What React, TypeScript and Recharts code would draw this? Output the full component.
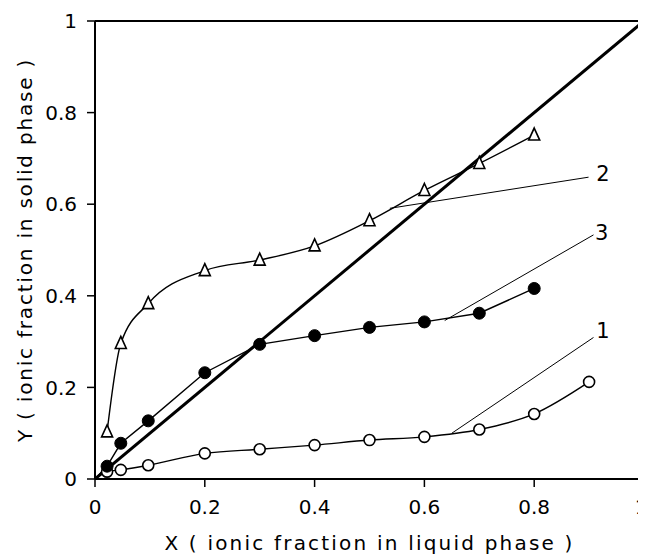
import React from 'react';
import { ComposedChart, Line, XAxis, YAxis, ReferenceLine, ReferenceDot } from 'recharts';

const xTicks = [0, 0.2, 0.4, 0.6, 0.8, 1];
const yTicks = [0, 0.2, 0.4, 0.6, 0.8, 1];

// Curve 2 (open triangles)
const triX = [0.022, 0.047, 0.097, 0.2, 0.3, 0.4, 0.5, 0.6, 0.7, 0.8];
const triY = [0.103, 0.296, 0.383, 0.455, 0.478, 0.509, 0.564, 0.63, 0.689, 0.751];

// Curve 3 (filled circles)
const filledX = [0, 0.022, 0.047, 0.097, 0.2, 0.3, 0.4, 0.5, 0.6, 0.7, 0.8];
const filledY = [0, 0.028, 0.078, 0.127, 0.232, 0.294, 0.313, 0.331, 0.343, 0.362, 0.416];

// Curve 1 (open circles)
const openX = [0, 0.022, 0.047, 0.097, 0.2, 0.3, 0.4, 0.5, 0.6, 0.7, 0.8, 0.9];
const openY = [0, 0.016, 0.02, 0.03, 0.056, 0.065, 0.074, 0.085, 0.092, 0.108, 0.142, 0.212];

// Diagonal
const diagX = [0, 1];
const diagY = [0, 1];

// Thin straight lines attached to curves 1, 2, 3
const line1X = [0.65, 0.908];
const line1Y = [0.1, 0.309];
const line2X = [0.537, 0.899];
const line2Y = [0.591, 0.659];
const line3X = [0.637, 0.908];
const line3Y = [0.346, 0.533];

// Curve labels
const curveLabels = ['1', '2', '3'];
const curveLabelX = [0.925, 0.925, 0.923];
const curveLabelY = [0.325, 0.668, 0.539];

const xTitle = 'X ( ionic fraction in liquid phase )';
const yTitle = 'Y ( ionic fraction in solid phase )';

const zip = (xs: number[], ys: number[]) => xs.map((x, i) => ({ x, y: ys[i] }));

const FONT = '"DejaVu Sans", sans-serif';

const fmt = (v: number) => (v === 0 ? '0' : v === 1 ? '1' : String(v));

const triDot = (props: any) => {
  const { cx, cy, index } = props;
  return (
    <path
      key={`tri-${index}`}
      d={`M${cx},${cy - 7} L${cx + 5.5},${cy + 5} L${cx - 5.5},${cy + 5} Z`}
      fill="#fff"
      stroke="#000"
      strokeWidth={1.6}
    />
  );
};

const filledDot = (props: any) => {
  const { cx, cy, index, payload } = props;
  if (payload && payload.x === 0) return <g key={`f-${index}`} />;
  return <circle key={`f-${index}`} cx={cx} cy={cy} r={6} fill="#000" stroke="#000" />;
};

const openDot = (props: any) => {
  const { cx, cy, index, payload } = props;
  if (payload && payload.x === 0) return <g key={`o-${index}`} />;
  return <circle key={`o-${index}`} cx={cx} cy={cy} r={5.5} fill="#fff" stroke="#000" strokeWidth={1.6} />;
};

const YTitle = (props: any) => {
  const vb = props.viewBox || {};
  const cy = (vb.y || 0) + (vb.height || 0) / 2;
  const x = 17;
  return (
    <text
      x={x}
      y={cy}
      transform={`rotate(-90, ${x}, ${cy})`}
      textAnchor="middle"
      dominantBaseline="central"
      fontFamily={FONT}
      fontSize={20}
      letterSpacing={1.8}
      fill="#000"
    >
      {yTitle}
    </text>
  );
};

const XTitle = (props: any) => {
  const vb = props.viewBox || {};
  const cx = (vb.x || 0) + (vb.width || 0) / 2;
  return (
    <text
      x={cx}
      y={535}
      textAnchor="middle"
      dominantBaseline="central"
      fontFamily={FONT}
      fontSize={20}
      letterSpacing={2.2}
      fill="#000"
    >
      {xTitle}
    </text>
  );
};

export default function App() {
  const tickStyle = { fontFamily: FONT, fontSize: 20, fill: '#000' };
  return (
    <div style={{ width: 638, height: 546, background: '#fff' }}>
      <ComposedChart width={638} height={546} margin={{ top: 13, right: 2, bottom: 0, left: 0 }}>
        <XAxis
          dataKey="x"
          type="number"
          domain={[0, 1]}
          ticks={xTicks}
          tickFormatter={fmt}
          height={75}
          tickSize={8}
          tickMargin={13}
          axisLine={{ stroke: '#000', strokeWidth: 2 }}
          tickLine={{ stroke: '#000', strokeWidth: 1.5 }}
          tick={tickStyle}
          allowDataOverflow
          label={<XTitle />}
        />
        <YAxis
          dataKey="y"
          type="number"
          domain={[0, 1]}
          ticks={yTicks}
          tickFormatter={fmt}
          width={87}
          tickSize={8}
          tickMargin={10}
          axisLine={{ stroke: '#000', strokeWidth: 2 }}
          tickLine={{ stroke: '#000', strokeWidth: 1.5 }}
          tick={tickStyle}
          allowDataOverflow
          label={<YTitle />}
        />
        <ReferenceLine y={1} stroke="#000" strokeWidth={2} />
        <ReferenceLine x={1} stroke="#000" strokeWidth={2} />

        <Line data={zip(diagX, diagY)} dataKey="y" type="linear" stroke="#000" strokeWidth={3} dot={false} isAnimationActive={false} />

        <Line data={zip(line1X, line1Y)} dataKey="y" type="linear" stroke="#000" strokeWidth={1} dot={false} isAnimationActive={false} />
        <Line data={zip(line2X, line2Y)} dataKey="y" type="linear" stroke="#000" strokeWidth={1} dot={false} isAnimationActive={false} />
        <Line data={zip(line3X, line3Y)} dataKey="y" type="linear" stroke="#000" strokeWidth={1} dot={false} isAnimationActive={false} />

        <Line data={zip(openX, openY)} dataKey="y" type="monotone" stroke="#000" strokeWidth={1.4} dot={openDot} isAnimationActive={false} />
        <Line data={zip(filledX, filledY)} dataKey="y" type="linear" stroke="#000" strokeWidth={1.4} dot={filledDot} isAnimationActive={false} />
        <Line data={zip(triX, triY)} dataKey="y" type="monotone" stroke="#000" strokeWidth={1.4} dot={triDot} isAnimationActive={false} />

        {curveLabels.map((lab, i) => (
          <ReferenceDot
            key={lab}
            x={curveLabelX[i]}
            y={curveLabelY[i]}
            r={0}
            stroke="none"
            fill="none"
            label={{ value: lab, position: 'center', fontFamily: FONT, fontSize: 21, fill: '#000' }}
          />
        ))}
      </ComposedChart>
    </div>
  );
}
